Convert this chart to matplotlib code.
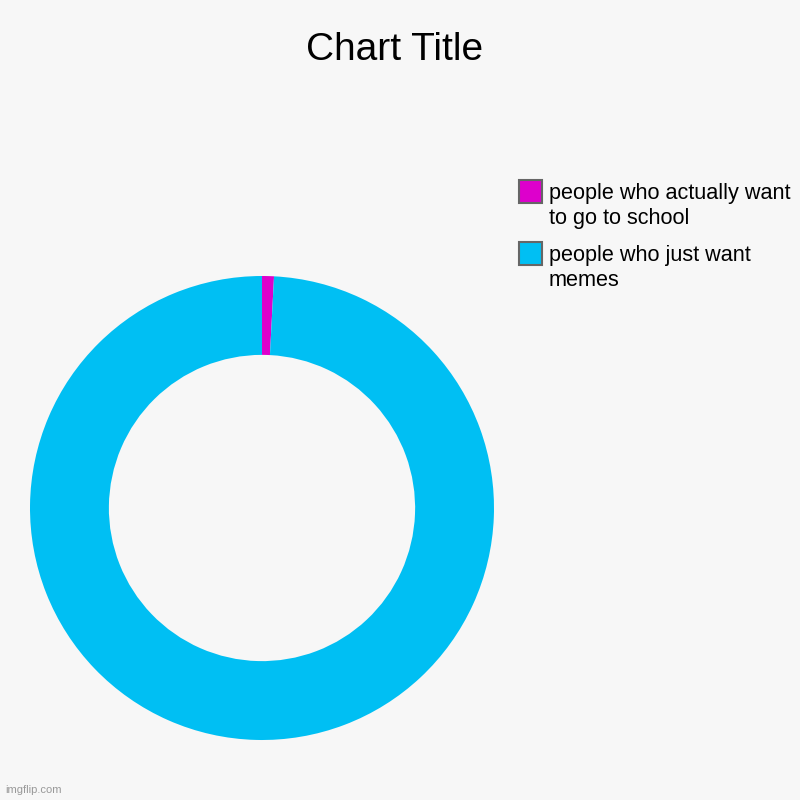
import matplotlib.pyplot as plt
from matplotlib.patches import Rectangle

plt.rcParams['font.family'] = ['Liberation Sans', 'DejaVu Sans']

labels = ['people who actually want\nto go to school', 'people who just want\nmemes']
values = [1, 120]
colors = ['#DD00CC', '#00BFF3']

W = H = 800
fig = plt.figure(figsize=(8, 8), dpi=100, facecolor='#F7F7F7')
ax = fig.add_axes([0.3275 - 0.29, 0.365 - 0.29, 0.58, 0.58])
ax.set_facecolor('#F7F7F7')
ax.pie(values, colors=colors, startangle=90, counterclock=False, radius=1,
       wedgeprops=dict(width=0.34, linewidth=0))
ax.set_xlim(-1, 1)
ax.set_ylim(-1, 1)
ax.set_aspect('equal')
ax.axis('off')

fig.text(395 / W, 1 - 50 / H, 'Chart Title', ha='center', va='center', fontsize=28)

# legend drawn by hand so the box sits next to the first text line
box_top = [180, 242]
for lab, col, top in zip(labels, colors, box_top):
    fig.add_artist(Rectangle((519 / W, 1 - (top + 23) / H), 23 / W, 23 / H,
                             transform=fig.transFigure, facecolor=col,
                             edgecolor='#666666', linewidth=1.5))
    fig.text(549 / W, 1 - (top + 3) / H, lab, ha='left', va='top', fontsize=15.6,
             linespacing=1.22)

fig.text(0.006, 0.012, 'imgflip.com', fontsize=8, color='#999999', ha='left', va='center')

fig.savefig('out.png', dpi=100, facecolor=fig.get_facecolor())
